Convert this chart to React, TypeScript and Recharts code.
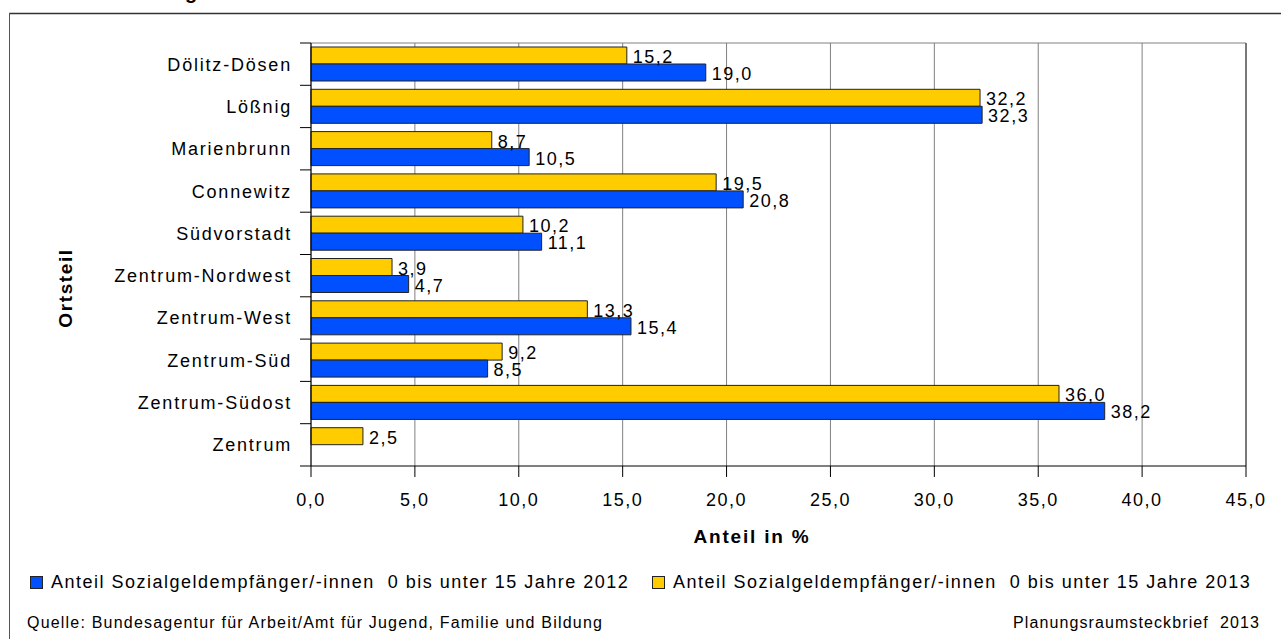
import React from "react";
import { Bar, BarChart, CartesianGrid, LabelList, ReferenceLine, XAxis, YAxis } from "recharts";

// Sozialgeld share of children under 15, by Ortsteil, 2012 vs 2013.
const CATEGORIES = [
  "Dölitz-Dösen",
  "Lößnig",
  "Marienbrunn",
  "Connewitz",
  "Südvorstadt",
  "Zentrum-Nordwest",
  "Zentrum-West",
  "Zentrum-Süd",
  "Zentrum-Südost",
  "Zentrum",
];
const VALUES_2012: (number | null)[] = [19.0, 32.3, 10.5, 20.8, 11.1, 4.7, 15.4, 8.5, 38.2, null];
const VALUES_2013: (number | null)[] = [15.2, 32.2, 8.7, 19.5, 10.2, 3.9, 13.3, 9.2, 36.0, 2.5];
const X_TICKS = [0, 5, 10, 15, 20, 25, 30, 35, 40, 45];

const LEGEND_2012 = "Anteil Sozialgeldempfänger/-innen  0 bis unter 15 Jahre 2012";
const LEGEND_2013 = "Anteil Sozialgeldempfänger/-innen  0 bis unter 15 Jahre 2013";

const BLUE = "#0050ff";
const YELLOW = "#ffcc00";
const FONT = "'Liberation Sans', Arial, sans-serif";

const W = 1281;
const H = 639;
const MARGIN = { top: 43, right: 35, bottom: 133, left: 11 };
const Y_AXIS_W = 300;
const X_AXIS_H = 40;
const PLOT_LEFT = MARGIN.left + Y_AXIS_W;
const PLOT_H = H - MARGIN.top - MARGIN.bottom - X_AXIS_H;
const STEP = PLOT_H / CATEGORIES.length;

if (typeof document !== "undefined") document.body.style.margin = "0";

const data = CATEGORIES.map((name, i) => ({ name, y2012: VALUES_2012[i], y2013: VALUES_2013[i] }));

const fmt = (v: number) => v.toFixed(1).replace(".", ",");

function XTick(props: any) {
  const { x, y, payload } = props;
  return (
    <text x={x} y={y + 27} textAnchor="middle" fontSize={18} letterSpacing={1.5} fill="#000" fontFamily={FONT}>
      {fmt(payload.value)}
    </text>
  );
}

function YTick(props: any) {
  const { y, payload, index } = props;
  const last = index === CATEGORIES.length - 1;
  return (
    <g>
      <line x1={PLOT_LEFT - 11} x2={PLOT_LEFT} y1={y - STEP / 2} y2={y - STEP / 2} stroke="#000" />
      {last && <line x1={PLOT_LEFT - 11} x2={PLOT_LEFT} y1={y + STEP / 2} y2={y + STEP / 2} stroke="#000" />}
      <text x={PLOT_LEFT - 19} y={y + 6.5} textAnchor="end" fontSize={18} letterSpacing={1.8} fill="#000" fontFamily={FONT}>
        {payload.value}
      </text>
    </g>
  );
}

function BarValue(props: any) {
  const { x, y, width, height, value } = props;
  if (value == null) return null;
  return (
    <text x={x + width + 6} y={y + height - 1} fontSize={18} letterSpacing={1.5} fill="#000" fontFamily={FONT}>
      {fmt(value)}
    </text>
  );
}

function LegendItem({ color, label, left }: { color: string; label: string; left: number }) {
  return (
    <div style={{ position: "absolute", left, top: 572, display: "flex", alignItems: "center" }}>
      <div style={{ width: 11, height: 11, background: color, border: "1px solid #222", marginRight: 8 }} />
      <span style={{ fontSize: 18, letterSpacing: 1.5, whiteSpace: "pre" }}>{label}</span>
    </div>
  );
}

export default function App() {
  return (
    <div style={{ position: "relative", width: W, height: H, background: "#fff", fontFamily: FONT, overflow: "hidden" }}>
      <svg width={W} height={H} style={{ position: "absolute", left: 0, top: 0 }}>
        <text x={185} y={-1} fontSize={20} fontWeight="bold" fontFamily={FONT}>
          g
        </text>
        <line x1={9} x2={W} y1={13.5} y2={13.5} stroke="#333" strokeWidth={1.5} />
        <line x1={9.5} x2={9.5} y1={13} y2={H} stroke="#555" strokeWidth={1} />
        <text
          transform="translate(72, 288) rotate(-90)"
          textAnchor="middle"
          fontSize={19}
          fontWeight="bold"
          letterSpacing={1.6}
          fontFamily={FONT}
        >
          Ortsteil
        </text>
        <text x={752} y={543} textAnchor="middle" fontSize={19} fontWeight="bold" letterSpacing={1.8} fontFamily={FONT}>
          Anteil in %
        </text>
      </svg>
      <div style={{ position: "absolute", left: 0, top: 0 }}>
        <BarChart
          width={W}
          height={H}
          data={data}
          layout="vertical"
          margin={MARGIN}
          barCategoryGap={4}
          barGap={0}
        >
          <CartesianGrid
            stroke="#808080"
            horizontalCoordinatesGenerator={(p: any) => [p.offset.top]}
          />
          <XAxis
            type="number"
            domain={[0, 45]}
            ticks={X_TICKS}
            height={X_AXIS_H}
            tickSize={11}
            tickLine={{ stroke: "#000" }}
            axisLine={{ stroke: "#000" }}
            tick={<XTick />}
            interval={0}
          />
          <YAxis
            type="category"
            dataKey="name"
            width={Y_AXIS_W}
            tickLine={false}
            axisLine={{ stroke: "#000" }}
            tick={<YTick />}
            interval={0}
          />
          <ReferenceLine x={45} stroke="#333" />
          <Bar dataKey="y2013" fill={YELLOW} stroke="#222" strokeWidth={1} isAnimationActive={false}>
            <LabelList dataKey="y2013" content={<BarValue />} />
          </Bar>
          <Bar dataKey="y2012" fill={BLUE} stroke="#222" strokeWidth={1} isAnimationActive={false}>
            <LabelList dataKey="y2012" content={<BarValue />} />
          </Bar>
        </BarChart>
      </div>
      <LegendItem color={BLUE} label={LEGEND_2012} left={30} />
      <LegendItem color={YELLOW} label={LEGEND_2013} left={652} />
      <div style={{ position: "absolute", left: 27, top: 614, fontSize: 16, letterSpacing: 1.2 }}>
        Quelle: Bundesagentur für Arbeit/Amt für Jugend, Familie und Bildung
      </div>
      <div style={{ position: "absolute", left: 1013, top: 614, fontSize: 16, letterSpacing: 1.1, whiteSpace: "pre" }}>
        Planungsraumsteckbrief  2013
      </div>
    </div>
  );
}
